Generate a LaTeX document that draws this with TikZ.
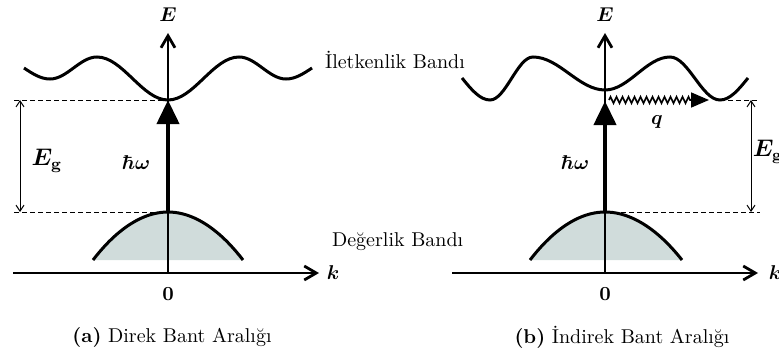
\documentclass[tikz,border=0pt]{standalone}
\usepackage{amsmath,bm}
\usetikzlibrary{arrows.meta,decorations.pathmorphing}

\definecolor{valgray}{HTML}{D0DCDB}
\tikzstyle{every node}=[font=\normalsize]
\tikzstyle{axis}=[line width=1.4pt,-{Straight Barb[length=6pt,width=7pt]}]
\tikzstyle{band}=[line width=1.5pt]
\tikzstyle{gapline}=[line width=0.5pt,dash pattern=on 2.5pt off 1.5pt]
\tikzstyle{gaparrow}=[line width=0.5pt,{Straight Barb[length=3pt,width=4pt]}-{Straight Barb[length=3pt,width=4pt]}]
\tikzstyle{photon}=[line width=2pt,-{Triangle[length=12pt,width=11pt]}]
\tikzstyle{phonon}=[line width=0.8pt,-{Triangle[length=9pt,width=7.5pt]},
  decorate,decoration={zigzag,segment length=3pt,amplitude=1.6pt,post length=9pt}]

\begin{document}
\begin{tikzpicture}[x=0.5pt,y=-0.5pt]
            \useasboundingbox (0,0) rectangle (779,358);

            % (a) direkt bant
            \begin{scope}[xshift=84pt]
                \fill[valgray] (-75,260) parabola bend (0,212) (75,260) -- cycle;
                \draw[band] (-75,260) parabola bend (0,212) (75,260);
                \draw[band] (-144,68) sin (-118,79) cos (-94.5,68) sin (-71,57) cos (-35.5,78.5) sin (0,100)
                    cos (35.5,78.5) sin (71,57) cos (94.5,68) sin (118,79) cos (144,68);
                \coordinate (cminA) at (0,100);
                \coordinate (vtopA) at (0,212);
                \coordinate (ktailA) at (-155,273);
                \coordinate (kheadA) at (151,273);
                \coordinate (EtailA) at (0,273);
                \coordinate (EheadA) at (0,33);
                \coordinate (dupA) at (-154,100);
                \coordinate (ddownA) at (-154,212);
                \coordinate (gtopA) at (-148,100);
                \coordinate (gbotA) at (-148,212);
                \draw[axis] (ktailA) -- (kheadA);
                \draw[axis] (EtailA) -- (EheadA);
                \node (kA) at (165,273) {$\bm{k}$};
                \node (EA) at (0,15) {$\bm{E}$};
                \node (zeroA) at (0,294) {$\mathbf{0}$};
                \draw[gapline] (dupA) -- (cminA);
                \draw[gapline] (ddownA) -- (vtopA);
                \draw[gaparrow] (gtopA) -- (gbotA);
                \node[font=\large] (EgA) at (-121,161) {$\bm{E}_{\mathbf{g}}$};
                \draw[photon] (vtopA) -- (cminA);
                \node (hwA) at (-32,163) {$\bm{\hbar\omega}$};
            \end{scope}

            % (b) indirekt bant
            \begin{scope}[xshift=302.5pt]
                \fill[valgray] (-75,260) parabola bend (0,212) (77,260) -- cycle;
                \draw[band] (-75,260) parabola bend (0,212) (77,260);
                \draw[band] (-143,78) sin (-115,100) cos (-93.5,78.5) sin (-72,57) cos (-36,73.5) sin (0,90)
                    cos (32.5,73.5) sin (65,57) cos (90,78.5) sin (115,100) cos (143,78);
                \coordinate (cminB) at (115,100);
                \coordinate (phstartB) at (4,100);
                \coordinate (phendB) at (104,100);
                \coordinate (ptopB) at (0,101);
                \coordinate (vtopB) at (0,212);
                \coordinate (ktailB) at (-153,273);
                \coordinate (kheadB) at (153,273);
                \coordinate (EtailB) at (0,273);
                \coordinate (EheadB) at (0,33);
                \coordinate (dupB) at (155,100);
                \coordinate (ddownB) at (155,212);
                \coordinate (gtopB) at (146,100);
                \coordinate (gbotB) at (146,212);
                \draw[axis] (ktailB) -- (kheadB);
                \draw[axis] (EtailB) -- (EheadB);
                \node (kB) at (170,273) {$\bm{k}$};
                \node (EB) at (0,15) {$\bm{E}$};
                \node (zeroB) at (0,294) {$\mathbf{0}$};
                \draw[gapline] (cminB) -- (dupB);
                \draw[gapline] (vtopB) -- (ddownB);
                \draw[gaparrow] (gtopB) -- (gbotB);
                \node[font=\large,inner sep=1pt] (EgB) at (163,152) {$\bm{E}_{\mathbf{g}}$};
                \draw[photon] (vtopB) -- (ptopB);
                \draw[phonon] (phstartB) -- (phendB);
                \node (qB) at (52,122) {$\bm{q}$};
                \node (hwB) at (-30,163) {$\bm{\hbar\omega}$};
            \end{scope}

            % bant adlari ve alt yazilar
            \node[anchor=west] (cband) at (318,60) {İletkenlik Bandı};
            \node[anchor=west] (vband) at (325,242) {Değerlik Bandı};
            \node (capA) at (172,337) {\textbf{(a)} Direk Bant Aralığı};
            \node (capB) at (622,337) {\textbf{(b)} İndirek Bant Aralığı};
        \end{tikzpicture}
\end{document}
